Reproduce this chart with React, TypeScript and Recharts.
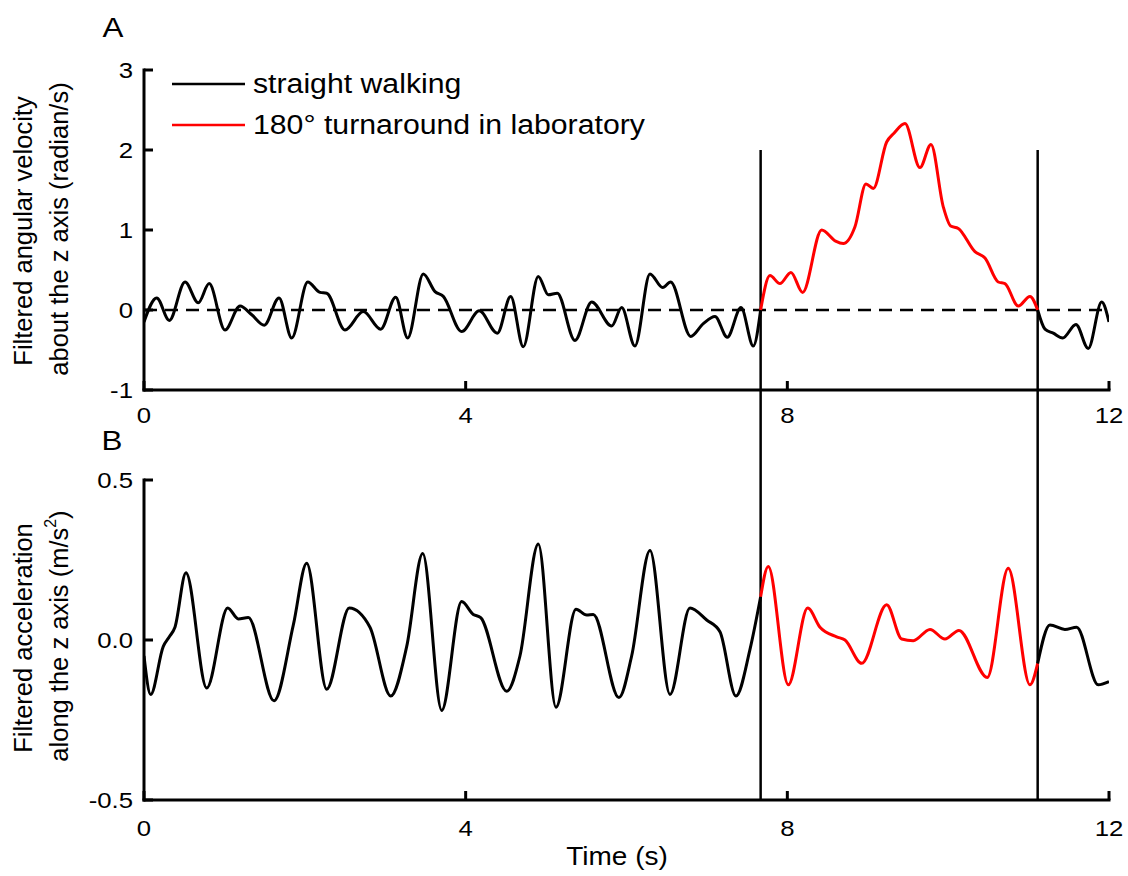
import React from 'react';
import { LineChart, Line, XAxis, YAxis, ReferenceLine } from 'recharts';

const FONT = '"Liberation Sans", Arial, Helvetica, sans-serif';
const SX = 1.12;

// layout (pixels, not data)
const PLOT_LEFT = 144;
const TOP_AXIS_Y = 390; // in top chart coordinates
const BOT_AXIS_Y = 420; // in bottom chart coordinates

// ---------- shared axis data ----------
const timeTicks = [0, 4, 8, 12];
const velTicks = [-1, 0, 1, 2, 3];
const accTicks = [-0.5, 0, 0.5];
const turnBounds = [7.668, 11.113];

// ---------- Panel A: angular velocity ----------
const velWalk1T = [0, 0.158, 0.315, 0.51, 0.675, 0.81, 1.007, 1.194, 1.34, 1.496, 1.679, 1.837, 2.036, 2.189, 2.272, 2.499, 2.727, 2.943, 3.13, 3.279, 3.473, 3.619, 3.722, 3.95, 4.169, 4.393, 4.56, 4.716, 4.903, 5.027, 5.139, 5.359, 5.567, 5.816, 5.94, 6.105, 6.292, 6.45, 6.549, 6.798, 6.955, 7.1, 7.253, 7.424, 7.577, 7.668];
const velWalk1V = [-0.15, 0.15, -0.13, 0.35, 0.09, 0.33, -0.25, 0.05, -0.06, -0.19, 0.15, -0.35, 0.35, 0.22, 0.21, -0.25, -0.02, -0.24, 0.16, -0.35, 0.45, 0.23, 0.17, -0.27, -0.01, -0.29, 0.17, -0.46, 0.42, 0.19, 0.21, -0.38, 0.1, -0.2, 0.03, -0.45, 0.45, 0.28, 0.35, -0.33, -0.17, -0.08, -0.34, 0.03, -0.45, 0];
const velTurnT = [7.668, 7.784, 7.908, 8.045, 8.19, 8.427, 8.6, 8.696, 8.841, 8.978, 9.069, 9.235, 9.326, 9.463, 9.649, 9.786, 9.939, 10.031, 10.126, 10.333, 10.458, 10.623, 10.706, 10.872, 11.017, 11.113];
const velTurnV = [0, 0.43, 0.33, 0.47, 0.22, 1.0, 0.86, 0.83, 1.04, 1.575, 1.52, 2.1, 2.21, 2.33, 1.78, 2.07, 1.29, 1.05, 1.02, 0.73, 0.65, 0.35, 0.33, 0.05, 0.17, 0];
const velWalk2T = [11.113, 11.204, 11.307, 11.424, 11.589, 11.742, 11.909, 12];
const velWalk2V = [0, -0.24, -0.29, -0.35, -0.18, -0.48, 0.1, -0.15];

// ---------- Panel B: acceleration ----------
const accWalk1T = [0, 0.083, 0.24, 0.315, 0.385, 0.522, 0.78, 1.041, 1.173, 1.297, 1.617, 1.857, 2.023, 2.272, 2.553, 2.81, 3.068, 3.267, 3.466, 3.702, 3.95, 4.095, 4.187, 4.51, 4.675, 4.903, 5.123, 5.372, 5.505, 5.587, 5.906, 6.064, 6.292, 6.541, 6.789, 6.997, 7.162, 7.361, 7.535, 7.668];
const accWalk1V = [-0.05, -0.17, -0.02, 0.01, 0.04, 0.21, -0.15, 0.1, 0.066, 0.07, -0.19, 0.047, 0.24, -0.154, 0.1, 0.04, -0.175, -0.02, 0.27, -0.22, 0.12, 0.08, 0.07, -0.16, -0.05, 0.3, -0.21, 0.096, 0.078, 0.08, -0.18, -0.05, 0.28, -0.17, 0.1, 0.0625, 0.026, -0.175, -0.03, 0.135];
const accTurnT = [7.668, 7.763, 8.012, 8.253, 8.406, 8.613, 8.717, 8.925, 9.235, 9.422, 9.566, 9.774, 9.96, 10.134, 10.486, 10.747, 11.017, 11.113];
const accTurnV = [0.135, 0.23, -0.14, 0.1, 0.04, 0.01, 0, -0.073, 0.11, 0.003, -0.002, 0.033, 0.003, 0.03, -0.117, 0.224, -0.14, -0.073];
const accWalk2T = [11.113, 11.266, 11.452, 11.598, 11.866, 12];
const accWalk2V = [-0.073, 0.047, 0.033, 0.04, -0.14, -0.13];

const legendItems = [
  { label: 'straight walking', color: '#000000' },
  { label: '180\u00B0 turnaround in laboratory', color: '#ff0000' },
];

const zip = (t: number[], v: number[]) => t.map((x, i) => ({ t: x, v: v[i] }));

const SText = ({ x, y, anchor = 'start', size, fill = '#000', children }: any) => (
  <g transform={`translate(${x},${y}) scale(${SX},1)`}>
    <text x={0} y={0} textAnchor={anchor} dominantBaseline="central" fontSize={size} fontFamily={FONT} fill={fill}>
      {children}
    </text>
  </g>
);

const YTick = (props: any) => {
  const { y, payload, fmt } = props;
  const x = PLOT_LEFT;
  return (
    <g>
      <line x1={x} x2={x + 9} y1={y} y2={y} stroke="#000" strokeWidth={3} />
      <SText x={x - 11} y={y} anchor="end" size={23}>{fmt(payload.value)}</SText>
    </g>
  );
};

const XTick = (props: any) => {
  const { x, payload, dy, axisY } = props;
  const y = axisY;
  return (
    <g>
      <line x1={x} x2={x} y1={y} y2={y - 9} stroke="#000" strokeWidth={3} />
      <SText x={x} y={y + dy} anchor="middle" size={23}>{payload.value}</SText>
    </g>
  );
};

const fmtA = (v: number) => String(v);
const fmtB = (v: number) => v.toFixed(1);

const axisLineStyle = { stroke: '#000', strokeWidth: 3, strokeLinecap: 'square' as const };
const lineProps = { type: 'monotone' as const, dataKey: 'v', dot: false, strokeWidth: 3, isAnimationActive: false, activeDot: false };

export default function App() {
  return (
    <div style={{ position: 'absolute', left: 0, top: 0, width: 1128, height: 876, background: '#fff', overflow: 'hidden' }}>
      {/* Panel A */}
      <div style={{ position: 'absolute', left: 0, top: 0 }}>
        <LineChart width={1128} height={430} margin={{ top: 70, right: 19, bottom: 10, left: 84 }}>
          <XAxis
            type="number"
            dataKey="t"
            domain={[0, 12]}
            ticks={timeTicks}
            interval={0}
            allowDataOverflow
            height={30}
            tickLine={false}
            axisLine={axisLineStyle}
            tick={(p: any) => <XTick {...p} dy={25} axisY={TOP_AXIS_Y} />}
          />
          <YAxis
            type="number"
            domain={[-1, 3]}
            ticks={velTicks}
            interval={0}
            allowDataOverflow
            width={60}
            tickLine={false}
            axisLine={axisLineStyle}
            tick={(p: any) => <YTick {...p} fmt={fmtA} />}
          />
          <ReferenceLine y={0} stroke="#000" strokeWidth={2.6} strokeDasharray="13 8" />
          <ReferenceLine segment={[{ x: turnBounds[0], y: 2 }, { x: turnBounds[0], y: -1 }]} stroke="#000" strokeWidth={2.5} ifOverflow="visible" />
          <ReferenceLine segment={[{ x: turnBounds[1], y: 2 }, { x: turnBounds[1], y: -1 }]} stroke="#000" strokeWidth={2.5} ifOverflow="visible" />
          <Line {...lineProps} data={zip(velWalk1T, velWalk1V)} stroke="#000000" />
          <Line {...lineProps} data={zip(velTurnT, velTurnV)} stroke="#ff0000" />
          <Line {...lineProps} data={zip(velWalk2T, velWalk2V)} stroke="#000000" />
        </LineChart>
      </div>

      {/* Panel B */}
      <div style={{ position: 'absolute', left: 0, top: 380 }}>
        <LineChart width={1128} height={496} margin={{ top: 100, right: 19, bottom: 46, left: 84 }}>
          <XAxis
            type="number"
            dataKey="t"
            domain={[0, 12]}
            ticks={timeTicks}
            interval={0}
            allowDataOverflow
            height={30}
            tickLine={false}
            axisLine={axisLineStyle}
            tick={(p: any) => <XTick {...p} dy={28} axisY={BOT_AXIS_Y} />}
          />
          <YAxis
            type="number"
            domain={[-0.5, 0.5]}
            ticks={accTicks}
            interval={0}
            allowDataOverflow
            width={60}
            tickLine={false}
            axisLine={axisLineStyle}
            tick={(p: any) => <YTick {...p} fmt={fmtB} />}
          />
          <ReferenceLine segment={[{ x: turnBounds[0], y: -0.5 }, { x: turnBounds[0], y: 0.78125 }]} stroke="#000" strokeWidth={2.5} ifOverflow="visible" />
          <ReferenceLine segment={[{ x: turnBounds[1], y: -0.5 }, { x: turnBounds[1], y: 0.78125 }]} stroke="#000" strokeWidth={2.5} ifOverflow="visible" />
          <Line {...lineProps} data={zip(accWalk1T, accWalk1V)} stroke="#000000" />
          <Line {...lineProps} data={zip(accTurnT, accTurnV)} stroke="#ff0000" />
          <Line {...lineProps} data={zip(accWalk2T, accWalk2V)} stroke="#000000" />
        </LineChart>
      </div>

      {/* Titles, panel letters, legend */}
      <svg width={1128} height={876} style={{ position: 'absolute', left: 0, top: 0, pointerEvents: 'none' }}>
        <SText x={113} y={27} anchor="middle" size={28}>A</SText>
        <SText x={112} y={440} anchor="middle" size={28}>B</SText>

        <g transform="translate(23,231) rotate(-90)">
          <text textAnchor="middle" dominantBaseline="central" fontSize={25.5} fontFamily={FONT}>Filtered angular velocity</text>
        </g>
        <g transform="translate(59,229) rotate(-90)">
          <text textAnchor="middle" dominantBaseline="central" fontSize={25.5} fontFamily={FONT}>about the z axis (radian/s)</text>
        </g>
        <g transform="translate(23,638) rotate(-90)">
          <text textAnchor="middle" dominantBaseline="central" fontSize={25.5} fontFamily={FONT}>Filtered acceleration</text>
        </g>
        <g transform="translate(59,636) rotate(-90)">
          <text textAnchor="middle" dominantBaseline="central" fontSize={25.5} fontFamily={FONT}>
            along the z axis (m/s<tspan dy={-9} fontSize={16}>2</tspan><tspan dy={9}>)</tspan>
          </text>
        </g>

        <SText x={617} y={857} anchor="middle" size={25}>Time (s)</SText>

        {legendItems.map((item, i) => (
          <g key={item.label}>
            <line x1={172} x2={245} y1={84 + i * 41} y2={84 + i * 41} stroke={item.color} strokeWidth={2.5} />
            <SText x={253} y={84 + i * 41} size={27}>{item.label}</SText>
          </g>
        ))}
      </svg>
    </div>
  );
}
